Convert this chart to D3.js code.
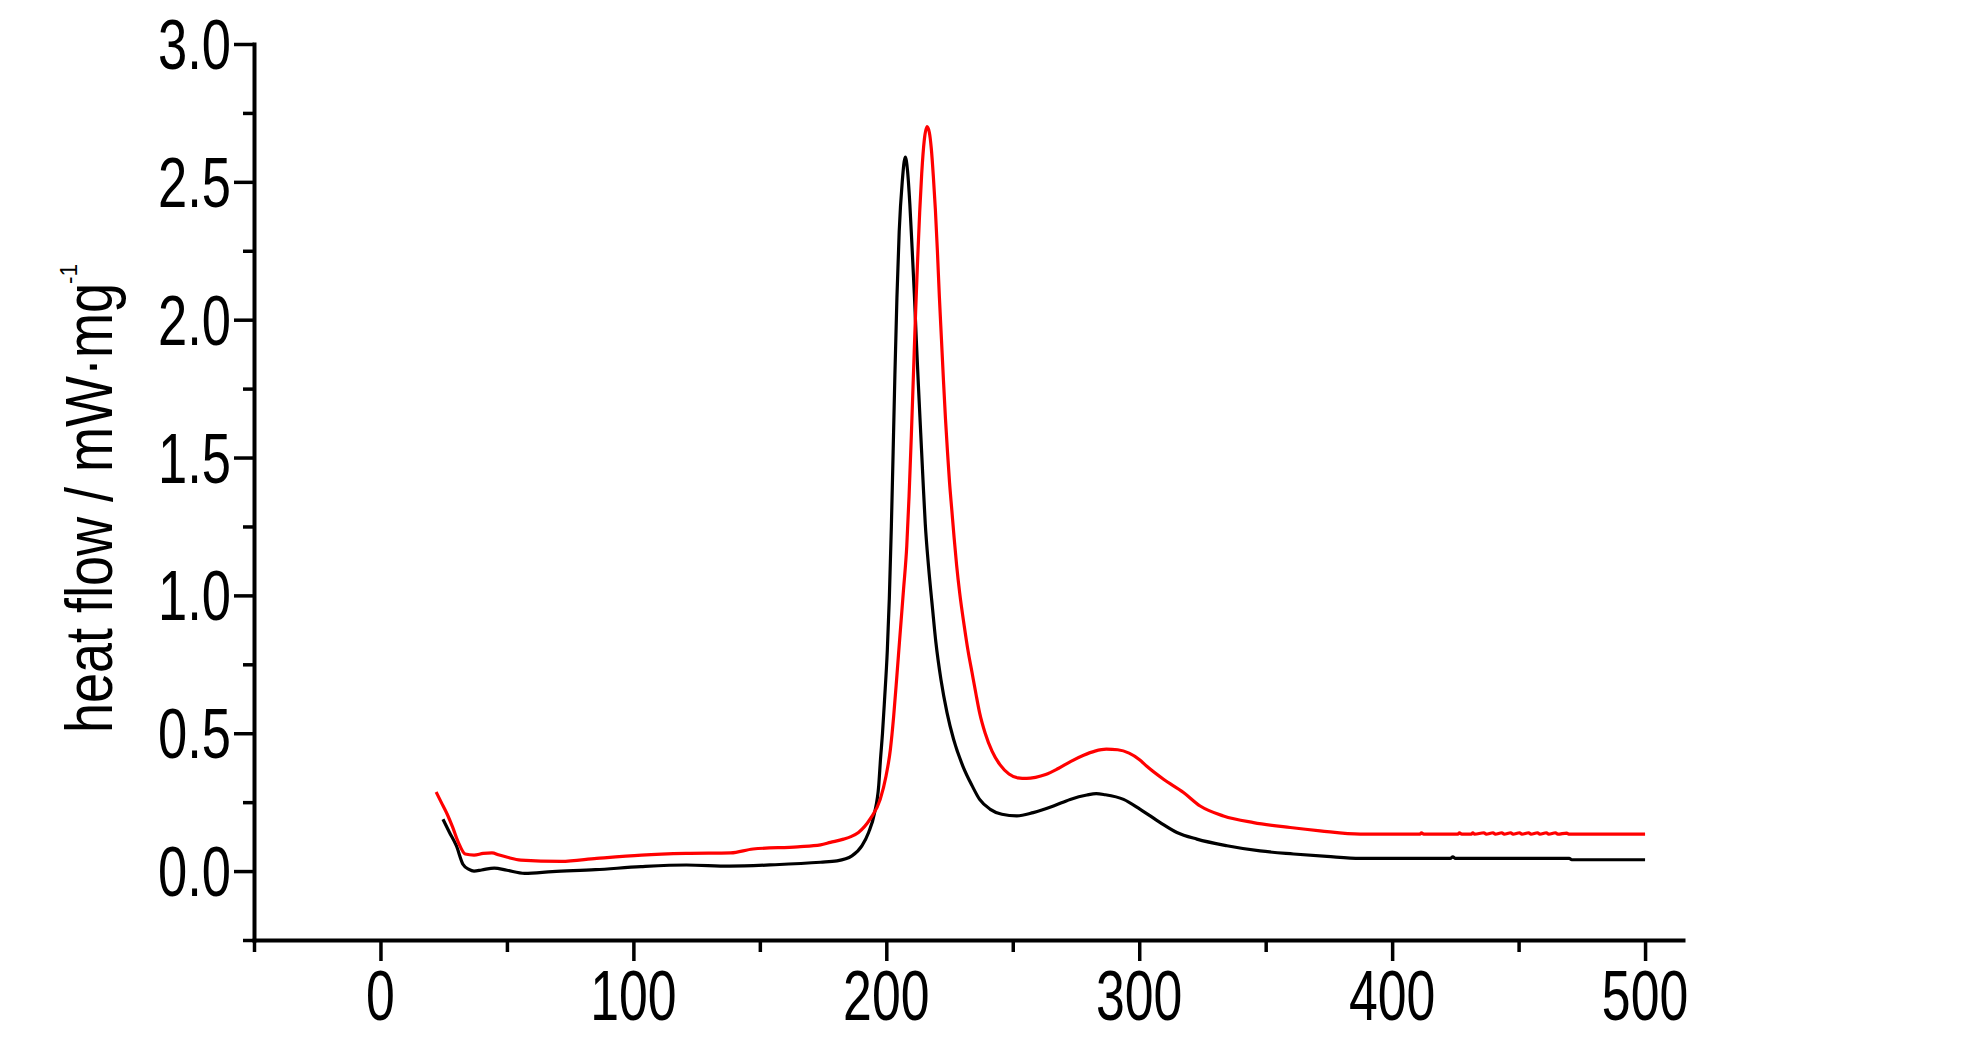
<!DOCTYPE html>
<html><head><meta charset="utf-8">
<script src="https://cdn.jsdelivr.net/npm/d3@7"></script>
<style>html,body{margin:0;padding:0;background:#fff;} svg{display:block}</style>
</head><body>
<svg id="c" width="1984" height="1063"></svg>
<script>
const xMajorTicks = [0, 100, 200, 300, 400, 500];
const xMinorTicks = [-50, 50, 150, 250, 350, 450];
const xTickLabels = ["0", "100", "200", "300", "400", "500"];
const yMajorTicks = [0, 0.5, 1, 1.5, 2, 2.5, 3];
const yMinorTicks = [-0.25, 0.25, 0.75, 1.25, 1.75, 2.25, 2.75];
const yTickLabels = ["0.0", "0.5", "1.0", "1.5", "2.0", "2.5", "3.0"];
const yTitle = "heat flow / mW\u00B7mg";
const yTitleSup = "-1";

const blackT = [24.7,27.3,30,32.6,35,37,40,45,50,57,68,85,103,121,138,156,174,180.5,186.4,190.4,193,195.4,197,197.7,198.5,199.3,200.4,201.2,202,202.7,203.4,204.2,205.1,206.3,207.5,208.4,209.3,210.2,211.1,211.9,212.7,213.6,214.5,215.4,216.7,218.3,219.6,221.6,224,226.6,230.3,233.9,236.9,241.1,245.7,251.6,258.1,266.1,272.7,279.3,283,286.5,293.8,300.4,308.3,314.9,322.8,334.7,347.8,361,374.2,387.4,423,424,425,470,471,500];
const blackV = [0.188,0.14,0.092,0.025,0.006,0.0,0.004,0.011,0.003,-0.008,-0.002,0.005,0.016,0.022,0.018,0.023,0.032,0.037,0.055,0.092,0.14,0.213,0.31,0.405,0.50,0.62,0.80,0.99,1.25,1.52,1.80,2.08,2.32,2.50,2.59,2.54,2.42,2.26,2.09,1.92,1.76,1.59,1.42,1.26,1.105,0.95,0.83,0.695,0.575,0.478,0.38,0.31,0.26,0.224,0.206,0.20,0.212,0.236,0.26,0.276,0.281,0.277,0.26,0.224,0.176,0.14,0.116,0.092,0.073,0.062,0.053,0.046,0.046,0.052,0.046,0.046,0.041,0.041];

const redT = [22,24,26.4,28.5,30.8,33.5,37,40.6,44.1,47,50.2,55.5,71.4,85.5,103.2,120.8,138.5,147.3,165,174,177.9,183.1,186,189,193.7,197.6,199.9,201.6,202.9,204.2,205.2,206.8,208.1,209.0,209.9,210.8,211.6,212.4,213.2,214,215,216.1,217,217.8,218.6,219.4,220.2,221,221.8,222.6,223.4,224.2,225,225.9,226.8,227.8,229,230.8,232.3,233.9,235.4,236.9,239.1,241.8,245,248.5,252,255.5,259,263,268,273,278,282.5,287,291.5,296,300,303,309.6,317.5,324.1,333.3,345.2,359.7,371.5,387.4,411,411.6,412.5,426,426.6,427.5,431.3,431.9,432.6,436.3,437.2,439.9,440.8,443.4,444.3,446.9,447.8,450.4,451.3,454,454.9,457.5,458.4,461,461.9,464.6,465.5,469,469.8,500];
const redV = [0.287,0.25,0.206,0.16,0.104,0.062,0.058,0.064,0.066,0.058,0.05,0.04,0.035,0.046,0.058,0.064,0.066,0.08,0.088,0.095,0.104,0.116,0.125,0.14,0.19,0.26,0.345,0.44,0.56,0.71,0.83,1.02,1.18,1.36,1.58,1.82,2.03,2.22,2.39,2.53,2.65,2.70,2.68,2.62,2.52,2.40,2.25,2.08,1.93,1.78,1.64,1.52,1.41,1.31,1.21,1.11,1.01,0.89,0.80,0.72,0.645,0.574,0.50,0.435,0.385,0.352,0.338,0.336,0.34,0.35,0.372,0.398,0.42,0.435,0.442,0.44,0.428,0.405,0.38,0.333,0.285,0.236,0.20,0.176,0.158,0.146,0.134,0.134,0.139,0.134,0.134,0.139,0.134,0.134,0.139,0.134,0.139,0.134,0.139,0.134,0.139,0.134,0.139,0.134,0.139,0.134,0.139,0.134,0.139,0.134,0.139,0.134,0.139,0.134,0.138,0.134,0.134];

const FONT = "'Liberation Sans', Arial, sans-serif";
const svg = d3.select("#c");
svg.append("rect").attr("width", 1984).attr("height", 1063).attr("fill", "#fff");

const x = d3.scaleLinear().domain([-50, 515]).range([254, 1683]);
const y = d3.scaleLinear().domain([-0.25, 3.0]).range([940, 44]);

// series
const line = d3.line().x(d => x(d[0])).y(d => y(d[1])).curve(d3.curveMonotoneX);
svg.append("path").datum(d3.zip(blackT, blackV))
  .attr("d", line).attr("fill", "none").attr("stroke", "#000").attr("stroke-width", 3.2).attr("stroke-linejoin", "round");
svg.append("path").datum(d3.zip(redT, redV))
  .attr("d", line).attr("fill", "none").attr("stroke", "#ff0000").attr("stroke-width", 3.2).attr("stroke-linejoin", "round");

// axes
function styleAxis(g, showDomain) {
  g.selectAll(".tick line").attr("stroke", "#000").attr("stroke-width", 3.5);
  g.selectAll(".tick text").remove();
  if (showDomain) g.select(".domain").attr("stroke", "#000").attr("stroke-width", 4).attr("stroke-linecap", "square");
  else g.select(".domain").remove();
}
const xg = svg.append("g").attr("transform", `translate(0,${y(-0.25)})`);
xg.append("g").call(d3.axisBottom(x).tickValues(xMinorTicks).tickSize(12).tickSizeOuter(0).tickFormat(""))
  .call(g => styleAxis(g, true));
xg.append("g").call(d3.axisBottom(x).tickValues(xMajorTicks).tickSize(21).tickSizeOuter(0).tickFormat(""))
  .call(g => styleAxis(g, false));

const yg = svg.append("g").attr("transform", `translate(${x(-50)},0)`);
yg.append("g").call(d3.axisLeft(y).tickValues(yMinorTicks).tickSize(11).tickSizeOuter(0).tickFormat(""))
  .call(g => styleAxis(g, true));
yg.append("g").call(d3.axisLeft(y).tickValues(yMajorTicks).tickSize(20).tickSizeOuter(0).tickFormat(""))
  .call(g => styleAxis(g, false));

// tick labels
svg.append("g").selectAll("text").data(xMajorTicks).join("text")
  .attr("transform", (d) => `translate(${x(d)},1020) scale(0.74,1)`)
  .attr("text-anchor", "middle").attr("font-family", FONT).attr("font-size", 70).attr("fill", "#000")
  .text((d, i) => xTickLabels[i]);
svg.append("g").selectAll("text").data(yMajorTicks).join("text")
  .attr("transform", (d) => `translate(231,${y(d) + 25}) scale(0.75,1)`)
  .attr("text-anchor", "end").attr("font-family", FONT).attr("font-size", 70).attr("fill", "#000")
  .text((d, i) => yTickLabels[i]);

// y title
svg.append("text")
  .attr("transform", "translate(112,733) rotate(-90)")
  .attr("font-family", FONT).attr("font-size", 66).attr("fill", "#000")
  .attr("textLength", 450).attr("lengthAdjust", "spacingAndGlyphs")
  .text(yTitle);
svg.append("text")
  .attr("transform", "translate(77,284) rotate(-90)")
  .attr("font-family", FONT).attr("font-size", 24).attr("fill", "#000")
  .attr("textLength", 20).attr("lengthAdjust", "spacingAndGlyphs")
  .text(yTitleSup);
</script>
</body></html>
